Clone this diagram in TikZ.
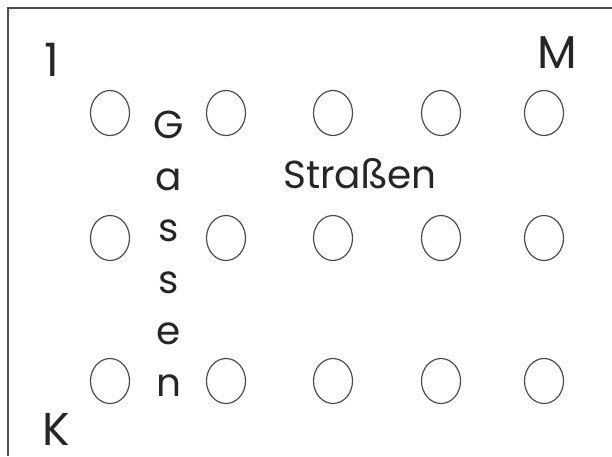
\documentclass[tikz,border=0pt]{standalone}
\usepackage{fontspec}
\setmainfont{Poppins}
\usepackage{tikz}
\usetikzlibrary{positioning, shapes.geometric}

\begin{document}
\begin{tikzpicture}[x=1pt, y=-1pt,
    frame/.style={draw=black!70, line width=2pt},
    hole/.style={draw=black!70, line width=1.2pt, ellipse, inner sep=0pt,
                 minimum width=39pt, minimum height=45pt},
    corner/.style={anchor=base, inner sep=0pt, text=black!85,
                   font=\fontsize{46}{50}\selectfont},
    word/.style={inner sep=0pt, text=black!85, font=\fontsize{39}{51.5}\selectfont}]
    \useasboundingbox (0,0) rectangle (612,456);
    \draw[frame] (612,8) -| (8,456);
    % corner labels
    \node[corner] (one) at (52,76) {1};
    \node[corner] (em) at (557,68) {M};
    \node[corner] (ka) at (56,445) {K};
    % first row
    \node[hole] (p11) at (110,113) {};
    \node[hole] (p12) at (226,113) {};
    \node[hole] (p13) at (333,113) {};
    \node[hole] (p14) at (441,113) {};
    \node[hole] (p15) at (544,113) {};
    % second row
    \node[hole] (p21) at (110,238) {};
    \node[hole] (p22) at (226,238) {};
    \node[hole] (p23) at (333,238) {};
    \node[hole] (p24) at (441,238) {};
    \node[hole] (p25) at (544,238) {};
    % third row
    \node[hole] (p31) at (110,381) {};
    \node[hole] (p32) at (226,381) {};
    \node[hole] (p33) at (333,381) {};
    \node[hole] (p34) at (441,381) {};
    \node[hole] (p35) at (544,381) {};
    % street names
    \node[word, anchor=base] (strassen) at (360,188) {Straßen};
    \node[word, align=center, anchor=north] (gassen) at (169,111) {G\\a\\s\\s\\e\\n};
\end{tikzpicture}
\end{document}
